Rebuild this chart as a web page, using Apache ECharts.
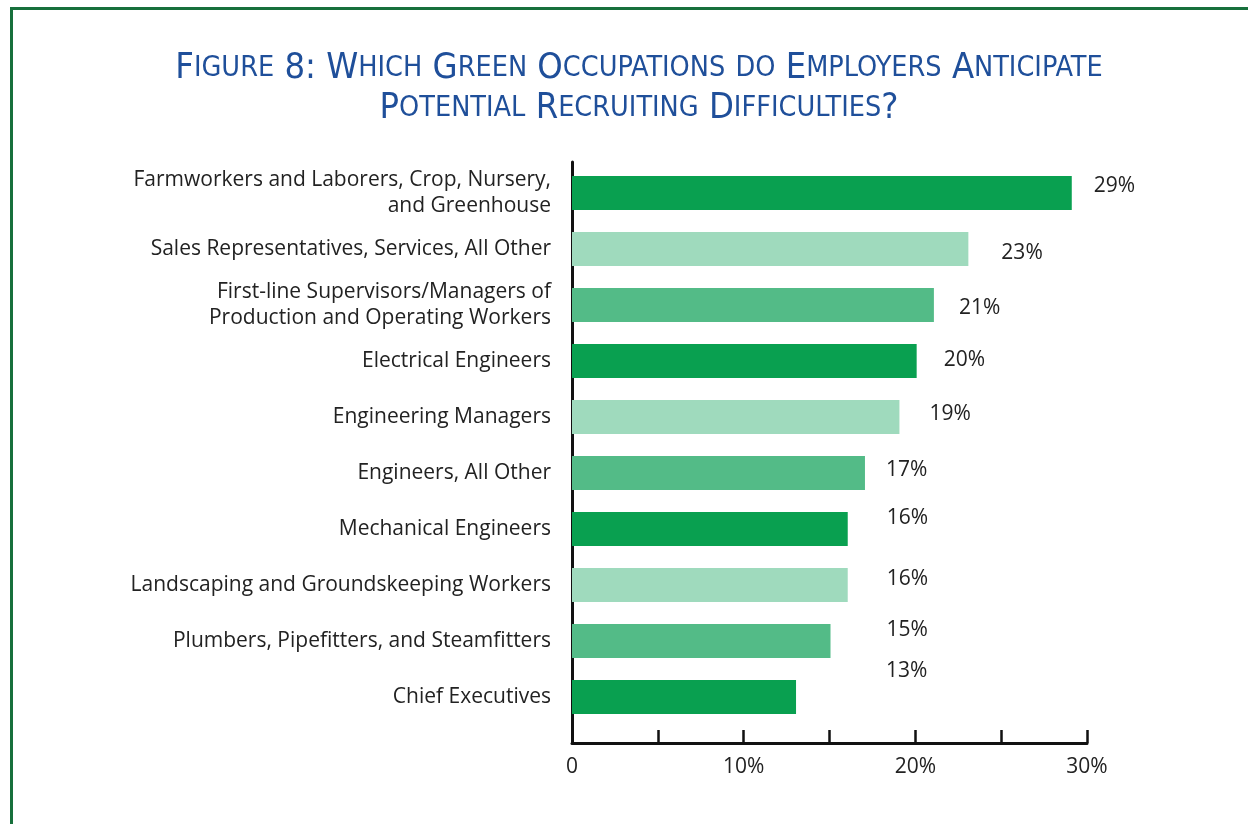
<!DOCTYPE html>
<html>
<head>
<meta charset="utf-8">
<title>Figure 8</title>
<script src="https://cdn.jsdelivr.net/npm/echarts@6/dist/echarts.min.js"></script>
<style>
  html, body { margin: 0; padding: 0; background: #ffffff; }
  #frame {
    position: absolute; left: 10px; top: 7px; width: 1300px; height: 900px;
    border-left: 3px solid #17703c; border-top: 3px solid #17703c;
  }
  #chart { position: absolute; left: 0; top: 0; width: 1248px; height: 824px; }
</style>
</head>
<body>
<div id="frame"></div>
<div id="chart"></div>
<script>
// Occupations, top to bottom
const occupations = [
  'Farmworkers and Laborers, Crop, Nursery,\nand Greenhouse',
  'Sales Representatives, Services, All Other',
  'First-line Supervisors/Managers of\nProduction and Operating Workers',
  'Electrical Engineers',
  'Engineering Managers',
  'Engineers, All Other',
  'Mechanical Engineers',
  'Landscaping and Groundskeeping Workers',
  'Plumbers, Pipefitters, and Steamfitters',
  'Chief Executives'
];
// Share of employers anticipating recruiting difficulties (%)
const shares = [29, 23, 21, 20, 19, 17, 16, 16, 15, 13];
// Axis tick labels
const axisTicks = [0, 10, 20, 30];

const titleLines = [
  'Figure 8: Which Green Occupations do Employers Anticipate',
  'Potential Recruiting Difficulties?'
];

// Bar shades cycle: dark, light, medium green
const shades = ['#09a050', '#9fdabd', '#53bb87'];
// Hand-placed value labels: [dx from bar end, dy from bar centre]
const labelNudge = [[22,-7],[33,4],[25,3],[27,-1],[30,-3],[21,-3],[39,-11],[39,-6],[56,-11],[90,-26]];

// Small-caps emulation: capitals/digits/punctuation full size, lowercase shrunk
function smallCaps(line) {
  let out = '', cur = null, buf = '';
  for (const ch of line) {
    const kind = (ch >= 'a' && ch <= 'z') ? 's' : 'b';
    if (kind !== cur && buf) { out += '{' + cur + '|' + buf + '}'; buf = ''; }
    cur = kind;
    buf += kind === 's' ? ch.toUpperCase() : ch;
  }
  if (buf) out += '{' + cur + '|' + buf + '}';
  return out;
}

const font = '"Open Sans", "Noto Sans", sans-serif';
const titleFont = '"Liberation Sans Narrow", "DejaVu Sans Condensed", sans-serif';
const chart = echarts.init(document.getElementById('chart'));

chart.setOption({
  animation: false,
  title: {
    text: titleLines.map(smallCaps).join('\n'),
    left: 634,
    textAlign: 'center',
    top: 44,
    textStyle: {
      fontWeight: 'normal',
      rich: {
        b: { fontFamily: titleFont, fontWeight: 'normal', fontSize: 36, color: '#1f4f9a', lineHeight: 40 },
        s: { fontFamily: titleFont, fontWeight: 'normal', fontSize: 28.5, color: '#1f4f9a', lineHeight: 40 }
      }
    }
  },
  grid: [
    { left: 572, right: 159, top: 165, height: 560 },
    { left: 572, right: 161, top: 162, height: 581 }
  ],
  xAxis: [
    { type: 'value', gridIndex: 0, min: 0, max: 30, show: false },
    {
      type: 'value', gridIndex: 1, min: 0, max: 30, interval: 5,
      axisLine: { show: true, lineStyle: { color: '#111', width: 3 } },
      axisTick: { show: true, inside: true, length: 13, lineStyle: { color: '#111', width: 2.5 } },
      splitLine: { show: false },
      axisLabel: {
        margin: 14, fontFamily: font, fontSize: 21, color: '#222',
        showMinLabel: true, showMaxLabel: true,
        formatter: v => axisTicks.includes(v) ? (v === 0 ? '0' : v + '%') : ''
      }
    }
  ],
  yAxis: [
    {
      type: 'category', gridIndex: 0, inverse: true, data: occupations,
      axisLine: { show: false }, axisTick: { show: false },
      axisLabel: { margin: 21, fontFamily: font, fontSize: 21, color: '#222', lineHeight: 26, align: 'right' }
    },
    {
      type: 'value', gridIndex: 1, min: 0, max: 1,
      axisLine: { show: true, lineStyle: { color: '#111', width: 3 } },
      axisTick: { show: false }, axisLabel: { show: false }, splitLine: { show: false }
    }
  ],
  series: [{
    type: 'bar',
    xAxisIndex: 0, yAxisIndex: 0,
    barWidth: 34,
    data: shares.map((v, i) => ({
      value: v,
      itemStyle: { color: shades[i % 3] },
      label: { offset: labelNudge[i] }
    })),
    label: {
      show: true, position: 'right', distance: 0,
      fontFamily: font, fontSize: 21, color: '#222',
      formatter: p => p.value + '%'
    }
  }]
});
</script>
</body>
</html>
